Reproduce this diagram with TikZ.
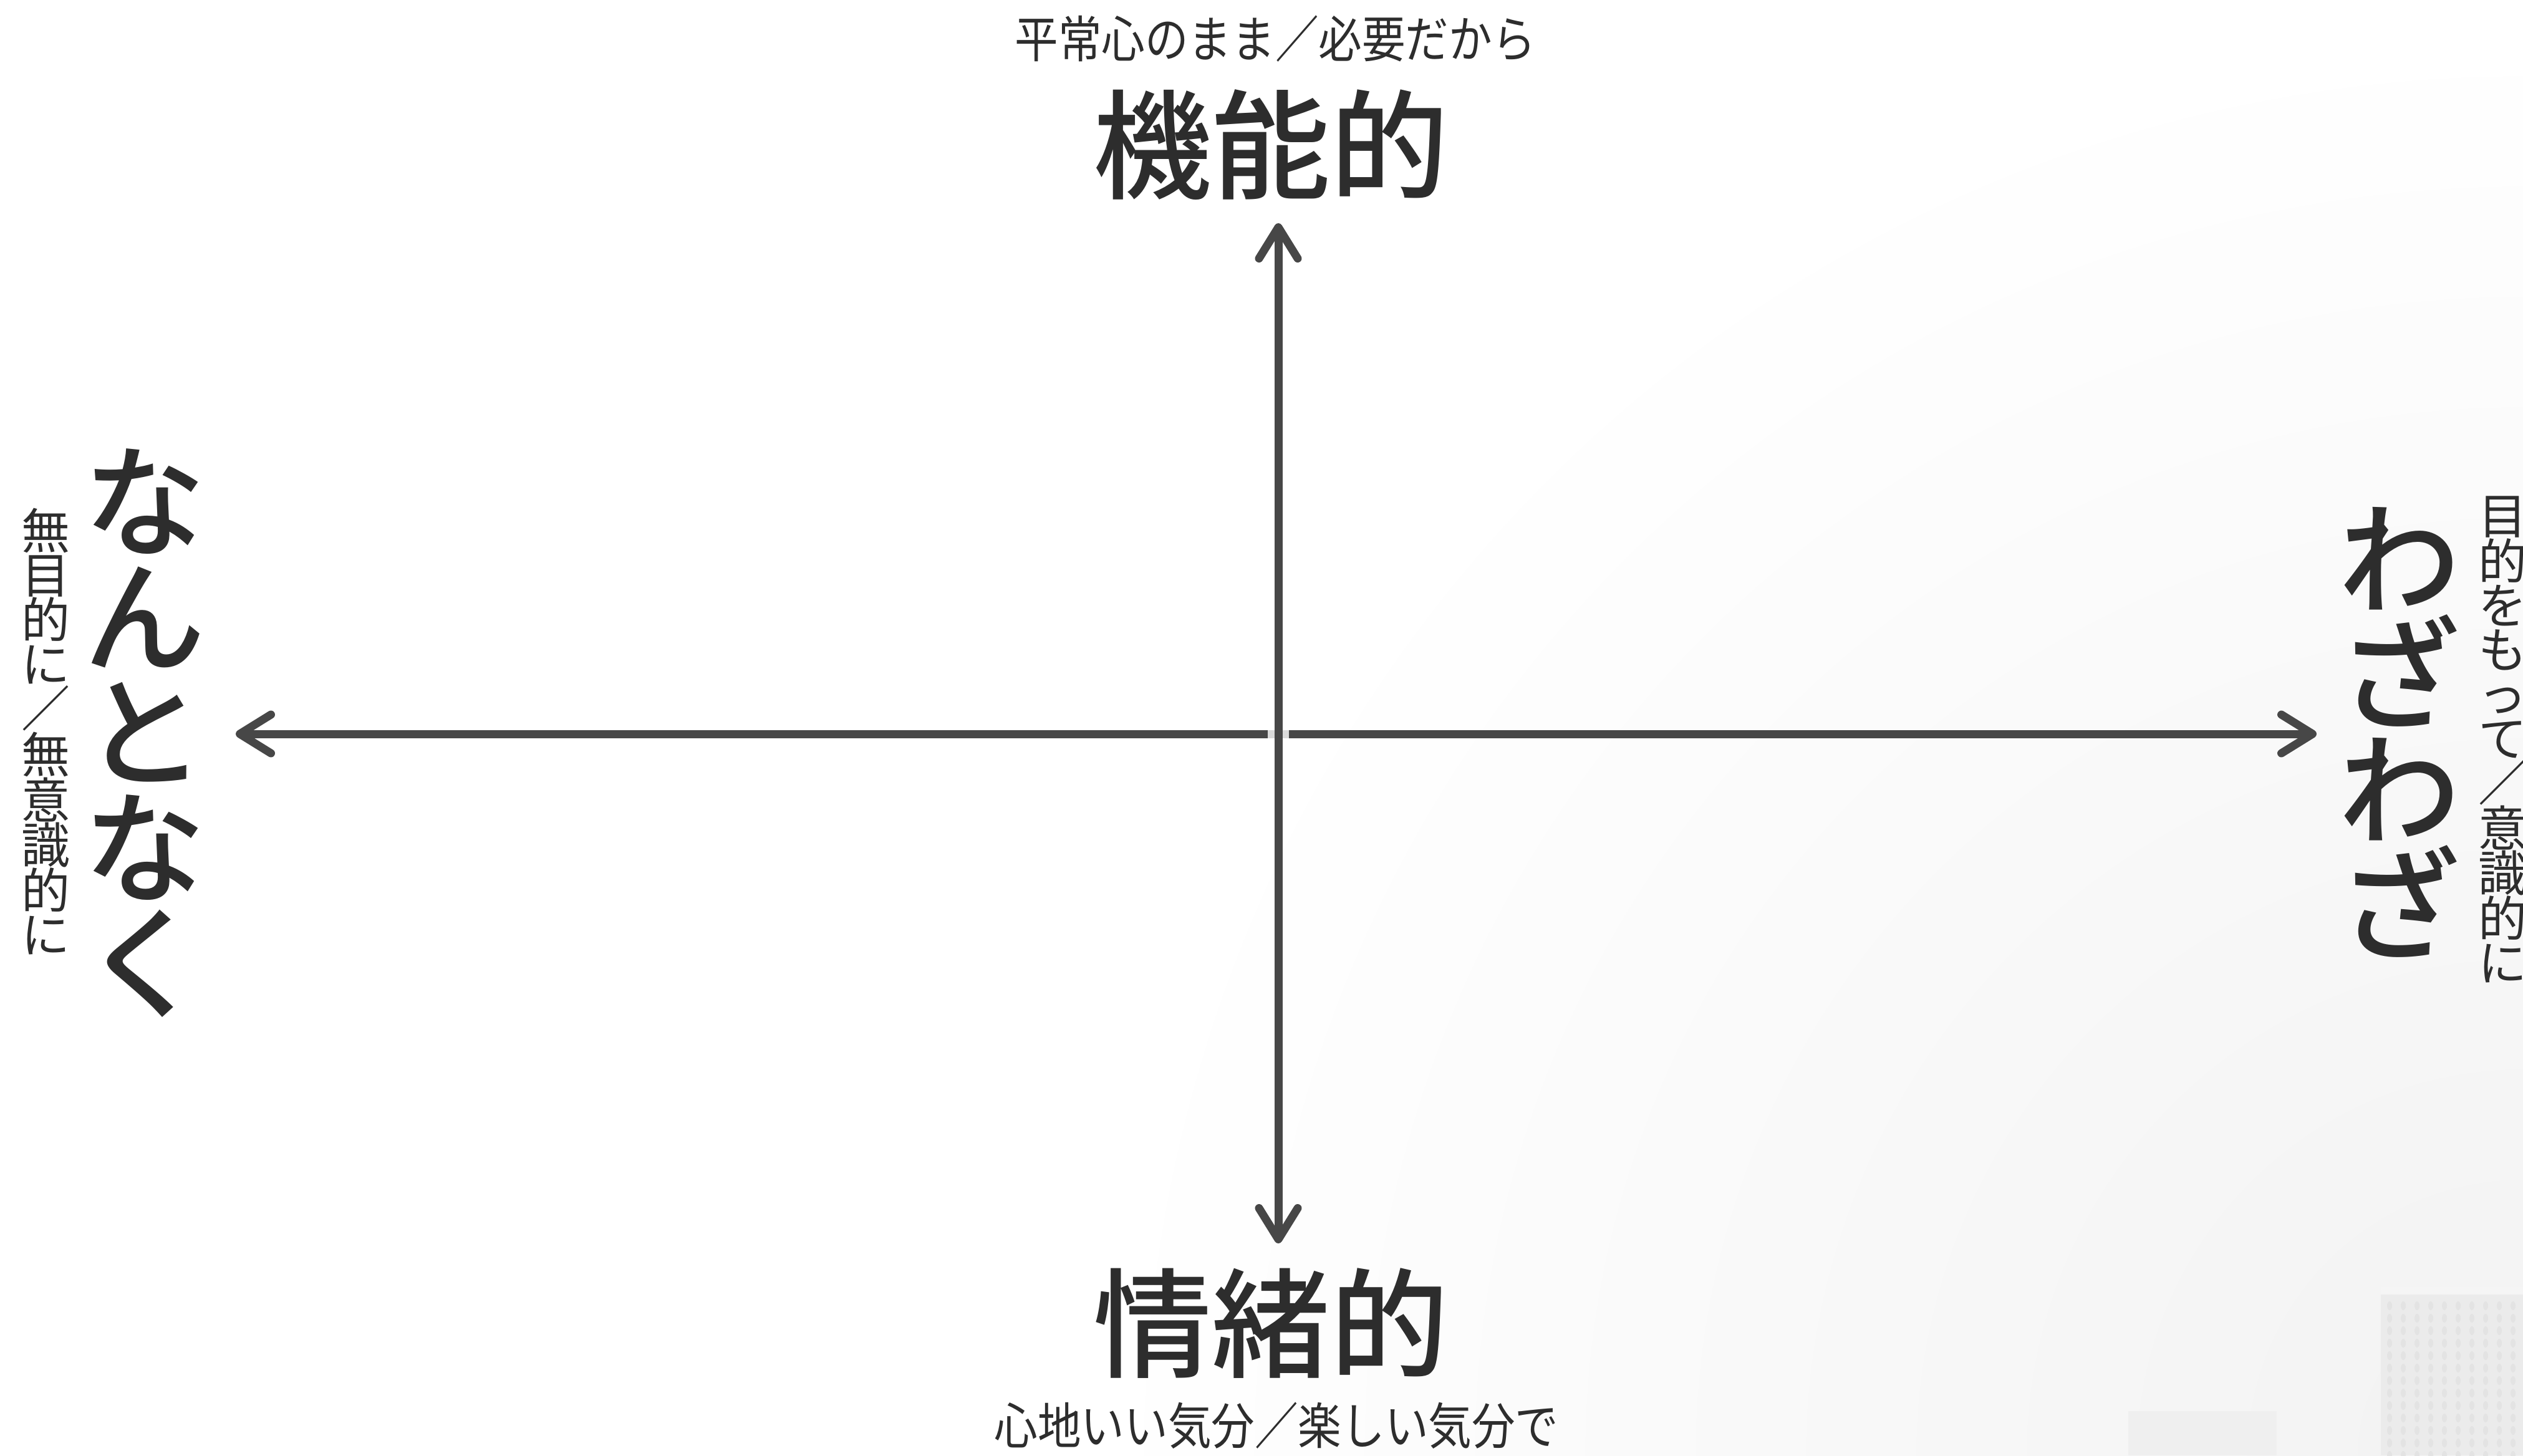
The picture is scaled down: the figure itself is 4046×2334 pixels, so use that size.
\documentclass[tikz,border=0pt]{standalone}
\usepackage{fontspec}
\newfontfamily\jpr{Noto Sans CJK JP}
\newfontfamily\jpm{Noto Sans CJK JP Medium}
\usetikzlibrary{arrows.meta}
\definecolor{ink}{HTML}{2D2D2D}
\definecolor{axiscol}{HTML}{474747}
\definecolor{bgshade}{HTML}{F2F2F2}
\definecolor{boxa}{HTML}{EFEFEF}
\definecolor{boxb}{HTML}{EBEBEB}
\definecolor{dotc}{HTML}{E3E3E3}
\begin{document}
\begin{tikzpicture}[x=1pt,y=-1pt,
  axisline/.style={draw=axiscol,line width=13pt,line cap=round,
    arrows={Straight Barb[length=50pt,width=62pt,round]-Straight Barb[length=50pt,width=62pt,round]}},
  halo/.style={draw=white,line width=34pt,opacity=0.8},
  bigword/.style={text=ink,inner sep=0pt,font=\jpm\fontsize{190}{190}\selectfont},
  subword/.style={text=ink,inner sep=0pt,font=\jpr\fontsize{80}{80}\selectfont},
  vbig/.style={text=ink,inner sep=0pt,align=center,font=\jpm\fontsize{195}{185}\selectfont},
  vsmall/.style={text=ink,inner sep=0pt,align=center,font=\jpr\fontsize{78}{71}\selectfont}]
\useasboundingbox (0,0) rectangle (4046,2334);
\fill[white] (0,0) rectangle (4046,2334);
% faint background decoration, bottom right
\begin{scope}
  \clip (0,0) rectangle (4046,2334);
  \shade[inner color=bgshade,outer color=white] (4046,2334) circle[radius=2300];
  \fill[boxa] (3413,2263) rectangle (3651,2334);
  \fill[boxb] (3818,2064) rectangle (4046,2334);
  \fill[boxa!60!white] (3818,2064) rectangle (4046,2076);
  \foreach \i in {0,...,10}{
    \foreach \j in {0,...,12}{
      \fill[dotc] (3832+\i*22,2094+\j*20) ellipse[x radius=4,y radius=7];
    }
  }
\end{scope}
% axes
\coordinate (L) at (378,1177);
\coordinate (R) at (3715,1177);
\coordinate (T) at (2050,358);
\coordinate (B) at (2050,1994);
\path[axisline] (L) -- (R);
\path[halo] (2050,1140) -- (2050,1214);
\path[axisline] (B) -- (T);
% labels
\node[subword] (tsub) at (2045,62) {\scalebox{0.87}[1]{平常心のまま／必要だから}};
\node[bigword] (ttitle) at (2038,232) {機能的};
\node[bigword] (btitle) at (2038,2122) {情緒的};
\node[subword] (bsub) at (2047,2286) {\scalebox{0.87}[1]{心地いい気分／楽しい気分で}};
\node[vbig] (lbig) at (232,1176) {な\\ん\\と\\な\\く};
\node[vsmall] (lsmall) at (73,1173) {無\\目\\的\\に\\／\\無\\意\\識\\的\\に};
\node[vbig] (rbig) at (3848,1174) {わ\\ざ\\わ\\ざ};
\node[vsmall] (rsmall) at (4013,1186) {目\\的\\を\\も\\っ\\て\\／\\意\\識\\的\\に};
\end{tikzpicture}
\end{document}
